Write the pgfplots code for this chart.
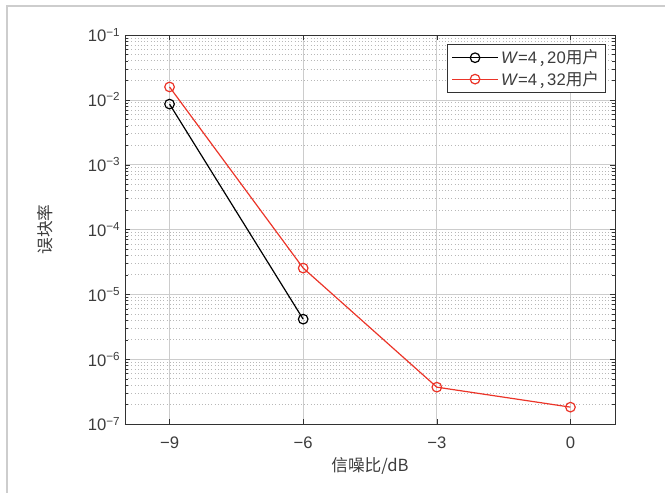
\documentclass[border=0pt]{standalone}
\usepackage{pgfplots}
\pgfplotsset{compat=1.18}
\usepackage{fontspec}
\setmainfont{Liberation Sans}
\newfontfamily\cjk{Noto Sans CJK SC}
\definecolor{txt}{RGB}{60,60,60}
\definecolor{axc}{RGB}{50,50,50}
\definecolor{myred}{RGB}{235,52,40}
\definecolor{frm}{RGB}{205,205,205}
\begin{document}
\begin{tikzpicture}
\path[use as bounding box] (0pt,0pt) rectangle (498.75pt,369.75pt);
\draw[frm,line width=0.9pt] (5.25pt,0pt) -- (5.25pt,365.25pt) -- (498.75pt,365.25pt);
\begin{axis}[
  at={(93.75pt,51.75pt)}, anchor=south west,
  scale only axis, width=367.5pt, height=291.75pt,
  ymode=log,
  xmin=-10, xmax=1, ymin=1e-7, ymax=1e-1,
  xtick={-9,-6,-3,0},
  xticklabels={−9,−6,−3,0},
  ytick={1e-7,1e-6,1e-5,1e-4,1e-3,1e-2,1e-1},
  yticklabels={10\textsuperscript{−7},10\textsuperscript{−6},10\textsuperscript{−5},10\textsuperscript{−4},10\textsuperscript{−3},10\textsuperscript{−2},10\textsuperscript{−1}},
  tick label style={font=\fontsize{12.5}{14}\selectfont, text=txt},
  xticklabel style={yshift=-6pt},
  xmajorgrids, ymajorgrids, yminorgrids,
  major grid style={color=black!20, line width=0.5pt},
  minor grid style={color=black!28, dotted, line width=0.5pt},
  axis line style={color=axc, line width=0.6pt},
  tick style={color=axc},
  tick align=inside,
  major tick length=4pt, minor tick length=2pt,
  xlabel={\cjk 信噪比/dB},
  ylabel={\cjk 误块率},
  every axis x label/.style={at={(axis description cs:0.5,-0.108)}, anchor=center, font=\fontsize{12.5}{14}\selectfont, text=txt},
  every axis y label/.style={at={(axis description cs:-0.163,0.5)}, rotate=90, anchor=center, font=\fontsize{12.5}{14}\selectfont, text=txt},
  legend style={at={(rel axis cs:0.982,0.977)}, anchor=north east,
    draw=axc, line width=0.6pt, font=\fontsize{12.5}{14}\selectfont, text=txt,
    row sep=0pt, inner xsep=3pt, inner ysep=2pt, cells={anchor=west}},
  legend cell align=left,
  legend image code/.code={\draw[mark repeat=2,mark phase=2] plot coordinates {(0pt,0pt) (17pt,0pt) (34pt,0pt)};},
]
\addplot[black, line width=0.9pt, mark=o, mark size=3.6pt, mark options={solid, line width=0.9pt}]
  coordinates {(-9,0.0086) (-6,4.14e-6)};
\addlegendentry{\textit{W}=4\,{\cjk ,}\,20{\cjk 用户}}
\addplot[myred, line width=0.9pt, mark=o, mark size=3.6pt, mark options={solid, line width=0.9pt}]
  coordinates {(-9,0.0158) (-6,2.54e-5) (-3,3.7e-7) (0,1.82e-7)};
\addlegendentry{\textit{W}=4\,{\cjk ,}\,32{\cjk 用户}}
\end{axis}
\end{tikzpicture}
\end{document}
